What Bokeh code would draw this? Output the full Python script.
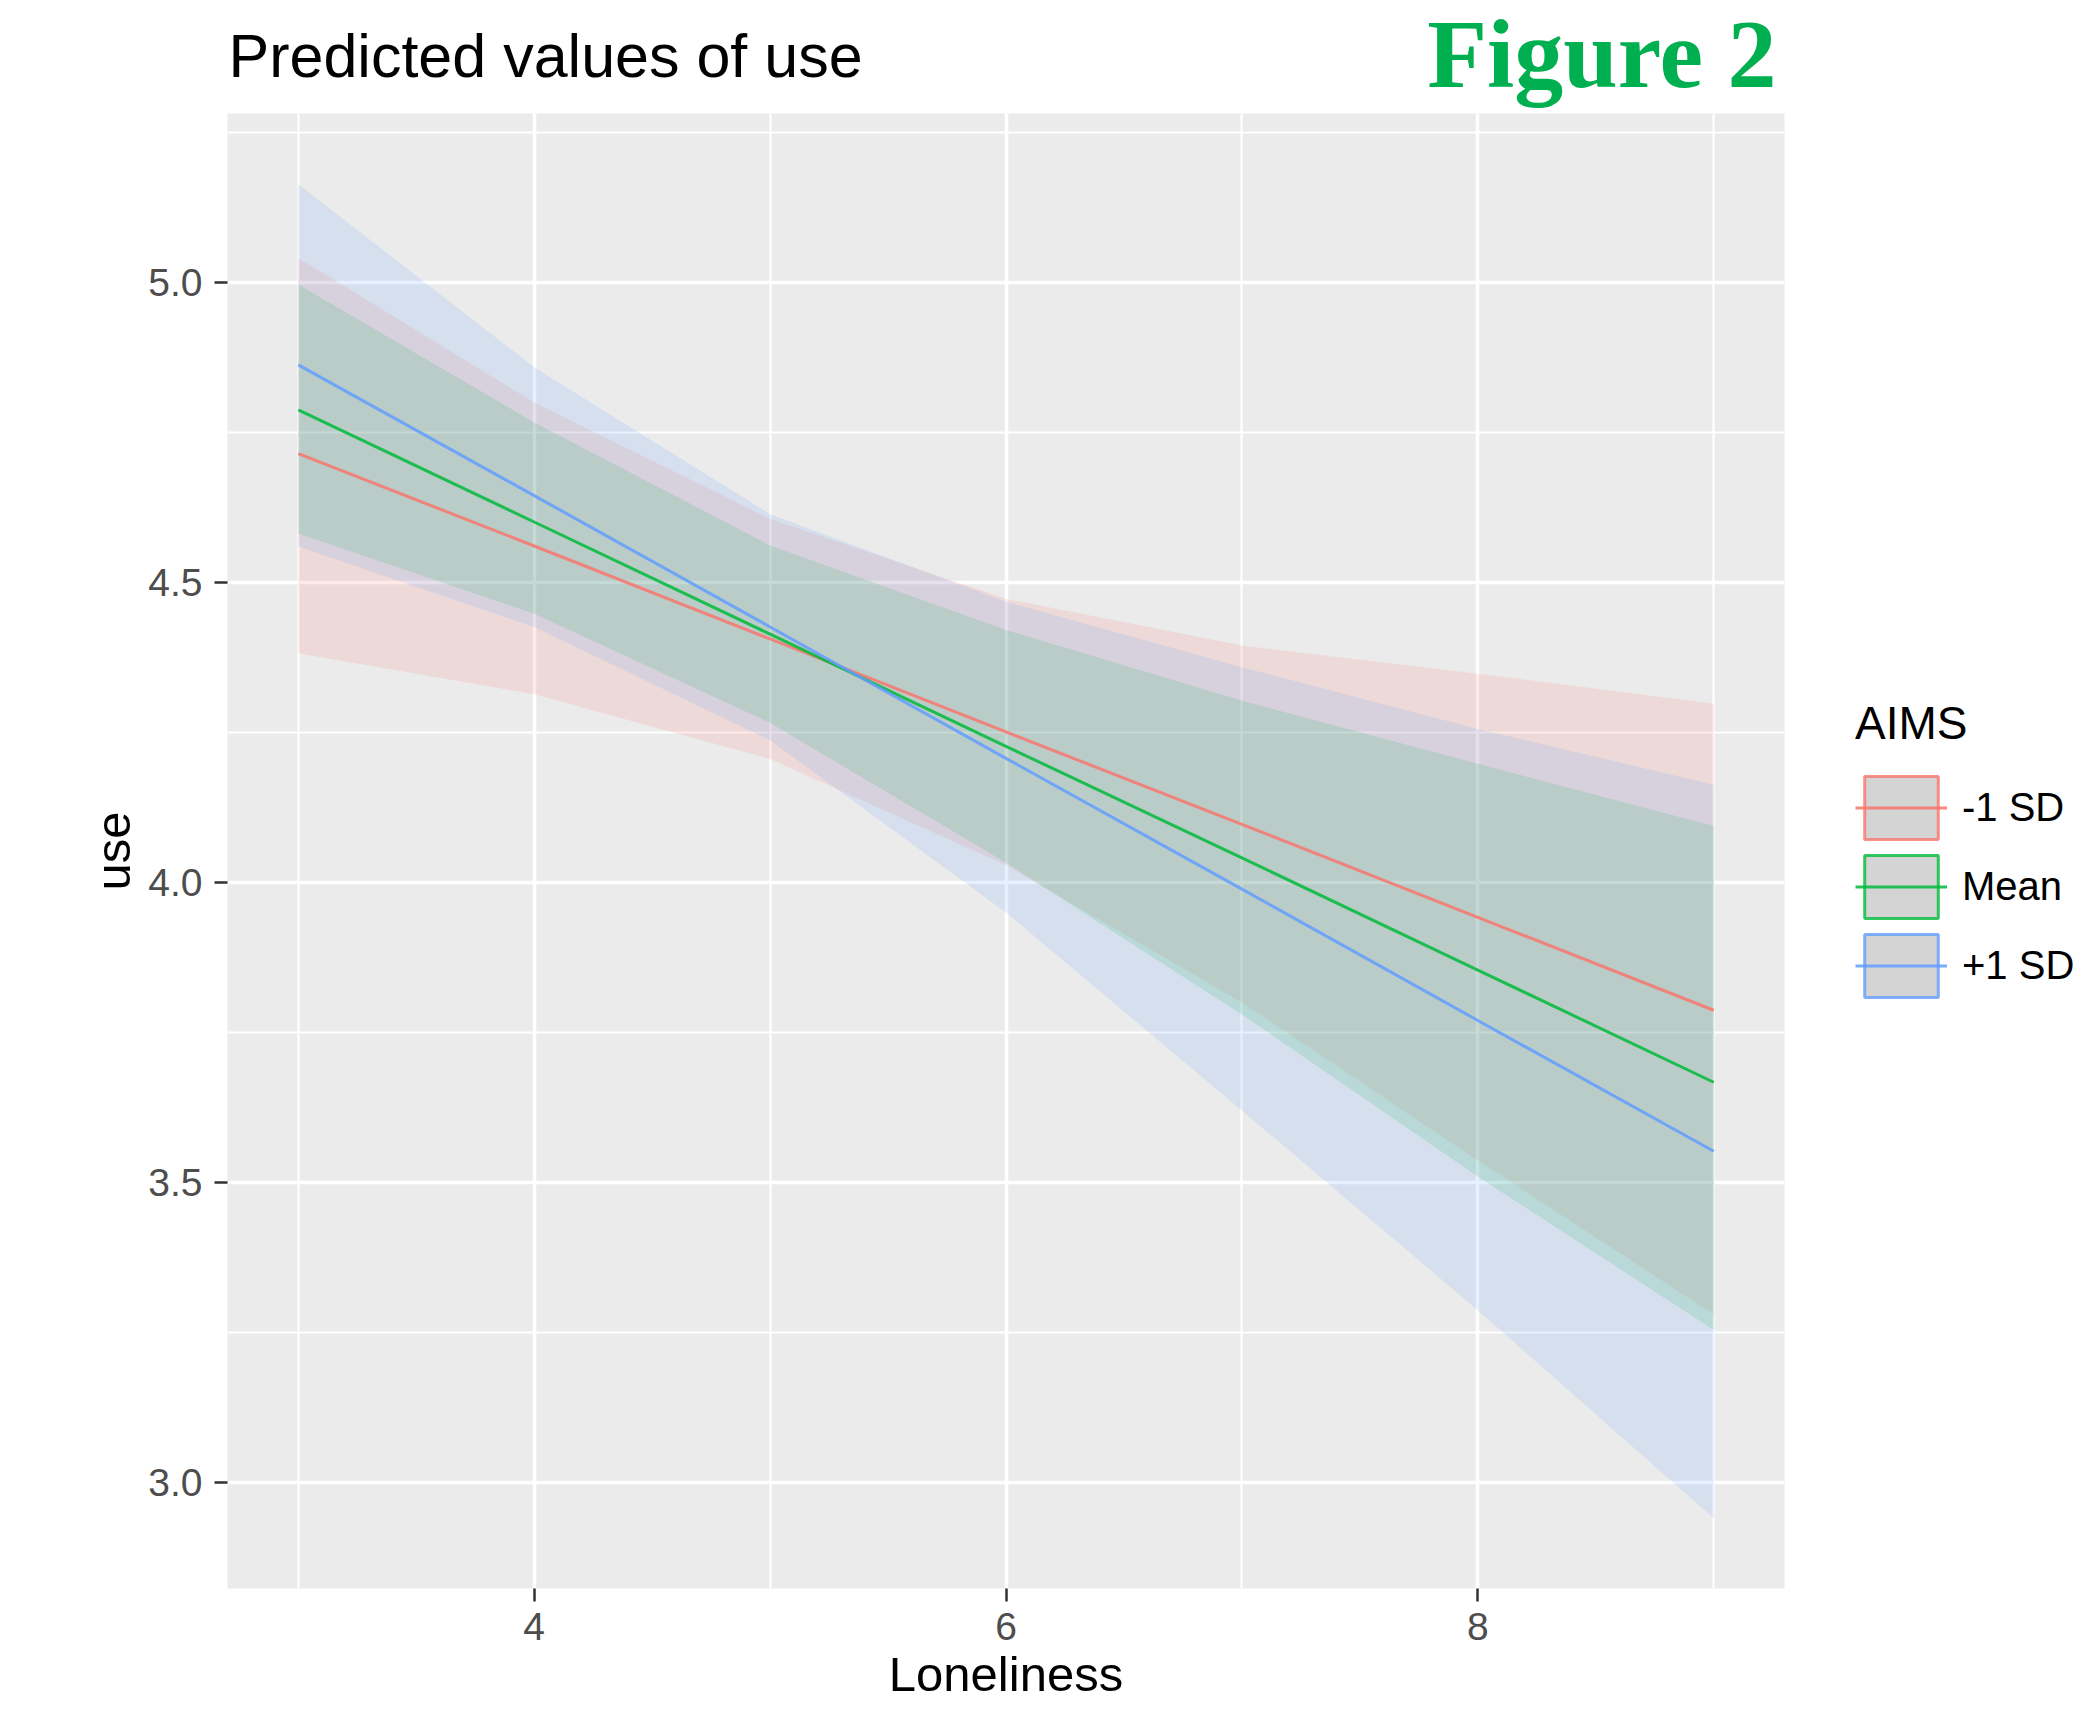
from bokeh.plotting import figure
from bokeh.layouts import column
from bokeh.models import FixedTicker, Range1d, Legend, LegendItem, Label
from bokeh.embed import file_html
from bokeh.resources import INLINE

# ---- data ----
loneliness = [3, 4, 5, 6, 7, 8, 9]
groups = ["-1 SD", "Mean", "+1 SD"]
colors = ["#F8766D", "#00BA38", "#619CFF"]

pred_minus = [4.715, 4.561, 4.406, 4.251, 4.097, 3.942, 3.787]
low_minus = [4.382, 4.314, 4.206, 4.029, 3.800, 3.537, 3.280]
high_minus = [5.041, 4.800, 4.606, 4.473, 4.395, 4.348, 4.298]

pred_mean = [4.788, 4.601, 4.414, 4.227, 4.041, 3.854, 3.667]
low_mean = [4.582, 4.448, 4.266, 4.033, 3.780, 3.510, 3.254]
high_mean = [4.997, 4.767, 4.562, 4.421, 4.303, 4.198, 4.094]

pred_plus = [4.863, 4.645, 4.426, 4.207, 3.989, 3.770, 3.552]
low_plus = [4.560, 4.426, 4.237, 3.950, 3.620, 3.287, 2.940]
high_plus = [5.164, 4.859, 4.614, 4.468, 4.359, 4.256, 4.163]

x_ticks = [4, 6, 8]
x_minor = [3, 5, 7, 9]
x_tick_labels = ["4", "6", "8"]
y_ticks = [3.0, 3.5, 4.0, 4.5, 5.0]
y_minor = [2.75, 3.25, 3.75, 4.25, 4.75, 5.25]
y_tick_labels = ["3.0", "3.5", "4.0", "4.5", "5.0"]

title_text = "Predicted values of use"
figure_tag = "Figure 2"

preds = [pred_minus, pred_mean, pred_plus]
lows = [low_minus, low_mean, low_plus]
highs = [high_minus, high_mean, high_plus]

FONT = "Liberation Sans"
FRAME_W, FRAME_H = 1557, 1475
BORDER_L, BORDER_R = 227, 304
HEAD_H = 113

# ---- header strip (same horizontal borders as the plot) holding title + tag ----
header = figure(frame_width=FRAME_W, frame_height=HEAD_H,
                x_range=Range1d(0, FRAME_W), y_range=Range1d(HEAD_H, 0),
                min_border_left=BORDER_L, min_border_right=BORDER_R,
                min_border_top=0, min_border_bottom=0,
                x_axis_location=None, y_axis_location=None, toolbar_location=None,
                title_location=None, output_backend="svg")
header.outline_line_color = None
header.background_fill_color = "white"
header.border_fill_color = "white"
header.grid.visible = False
header.add_layout(Label(x=1, y=55, text=title_text, text_align="left",
                        text_baseline="alphabetic", text_font=FONT,
                        text_font_size="61px", text_color="black"))
header.add_layout(Label(x=FRAME_W - 8, y=53, text=figure_tag, text_align="right",
                        text_baseline="alphabetic", text_font="Liberation Serif",
                        text_font_style="bold", text_font_size="98px",
                        text_color="#00B050"))

# ---- main plot ----
p = figure(frame_width=FRAME_W, frame_height=FRAME_H,
           x_range=Range1d(2.7, 9.3), y_range=Range1d(2.823, 5.282),
           min_border_left=BORDER_L, min_border_right=BORDER_R,
           min_border_top=0, min_border_bottom=127,
           title_location=None,
           output_backend="svg", toolbar_location=None)

p.background_fill_color = "#EBEBEB"
p.border_fill_color = "white"
p.outline_line_color = None

p.xaxis.ticker = FixedTicker(ticks=x_ticks, minor_ticks=x_minor)
p.yaxis.ticker = FixedTicker(ticks=y_ticks, minor_ticks=y_minor)
p.xaxis.major_label_overrides = {t: l for t, l in zip(x_ticks, x_tick_labels)}
p.yaxis.major_label_overrides = {t: l for t, l in zip(y_ticks, y_tick_labels)}

for ax in (p.xaxis, p.yaxis):
    ax.axis_line_color = None
    ax.major_tick_line_color = "#333333"
    ax.major_tick_line_width = 2.5
    ax.major_tick_out = 13
    ax.major_tick_in = 0
    ax.minor_tick_line_color = None
    ax.major_label_text_font = FONT
    ax.major_label_text_font_size = "39px"
    ax.major_label_text_color = "#4D4D4D"
    ax.axis_label_text_font = FONT
    ax.axis_label_text_font_size = "49px"
    ax.axis_label_text_font_style = "normal"
    ax.axis_label_text_color = "black"

p.xaxis.axis_label = "Loneliness"
p.yaxis.axis_label = "use"
p.xaxis.major_label_standoff = 11
p.xaxis.axis_label_standoff = 4
p.yaxis.major_label_standoff = 12
p.yaxis.axis_label_standoff = 5

for g in (p.xgrid, p.ygrid):
    g.grid_line_color = "white"
    g.grid_line_width = 3.5
    g.minor_grid_line_color = "white"
    g.minor_grid_line_width = 2.2

# ribbons
for lo, hi, c in zip(lows, highs, colors):
    p.varea(x=loneliness, y1=lo, y2=hi, fill_color=c, fill_alpha=0.15)

# lines
line_renderers = []
for pr, c in zip(preds, colors):
    line_renderers.append(p.line(x=loneliness, y=pr, line_color=c, line_width=3, line_alpha=0.85))

# legend keys: grey box with coloured border (a dummy quad placed off-range) + line
items = []
for name, c, lr in zip(groups, colors, line_renderers):
    box = p.quad(left=[0], right=[0], top=[0], bottom=[0], fill_color="#D4D4D4",
                 line_color=c, line_alpha=0.8, line_width=3)
    items.append(LegendItem(label=name, renderers=[box, lr]))

legend = Legend(items=items, title="AIMS", location=(71, 583))
legend.margin = 0
legend.padding = 0
legend.glyph_width = 92
legend.glyph_height = 79
legend.spacing = 0
legend.label_standoff = 15
legend.label_text_font = FONT
legend.label_text_font_size = "40px"
legend.label_text_color = "black"
legend.title_text_font = FONT
legend.title_text_font_size = "46px"
legend.title_text_font_style = "normal"
legend.title_text_color = "black"
legend.title_standoff = 18
legend.background_fill_alpha = 0
legend.border_line_color = None
p.add_layout(legend, "right")

layout = column(header, p, spacing=0)
open("out.html", "w").write(file_html(layout, INLINE))
